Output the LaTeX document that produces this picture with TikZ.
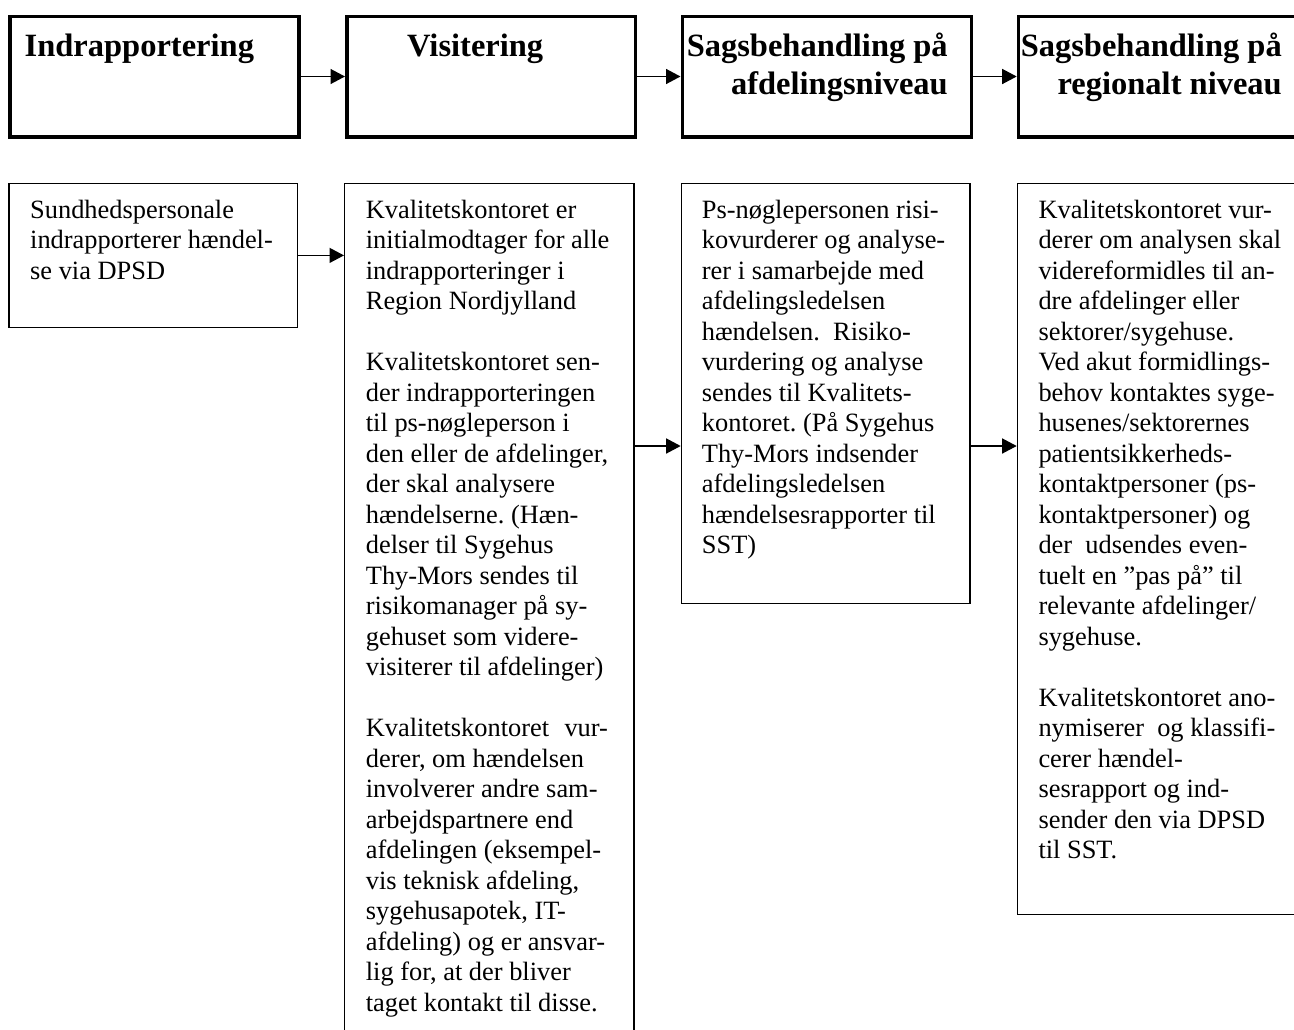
\documentclass[tikz,border=0pt]{standalone}
\usepackage{fontspec}
\setmainfont{Liberation Serif}
\usetikzlibrary{arrows.meta}
\tikzset{
  headbox/.style={draw=black, line width=3.5pt, rectangle, inner sep=0pt, anchor=north west},
  bodybox/.style={draw=black, line width=1.4pt, rectangle, inner sep=0pt, anchor=north west},
  headtxt/.style={inner sep=0pt, font=\fontsize{32.5}{37.5}\selectfont\bfseries},
  bodytxt/.style={inner sep=0pt, anchor=base west, font=\fontsize{26.4}{30.5}\selectfont},
  conn/.style={draw=black, line width=1.4pt, -{Triangle[length=14.5pt,width=15pt]}}
}
\newcommand{\lefttxt}[1]{\parbox[t]{300pt}{\raggedright\frenchspacing #1}}
\newcommand{\righttxt}[1]{\parbox[t]{300pt}{\raggedleft\frenchspacing #1}}
\begin{document}
\begin{tikzpicture}[x=1pt,y=-1pt]
\useasboundingbox (0,0) rectangle (1294,1029);
\clip (0,0) rectangle (1294,1029);
\fill[white] (0,0) rectangle (1294,1029);

% header boxes
\node[headbox, minimum width=288.7pt, minimum height=120.5pt] (H1) at (8.3,14.5) {};
\node[headbox, minimum width=288.5pt, minimum height=120.5pt] (H2) at (345,14.5) {};
\node[headbox, minimum width=289pt, minimum height=120.5pt] (H3) at (680.5,14.5) {};
\node[headbox, minimum width=300pt, minimum height=120.5pt] (H4) at (1016.7,14.5) {};

\node[headtxt, anchor=base west] (H1t) at (24.5,56.5) {Indrapportering};
\node[headtxt, anchor=base west] (H2t) at (407,56.5) {Visitering};
\node[headtxt, anchor=base east] (H3t) at (948,56.5) {\righttxt{Sagsbehandling på\\ afdelingsniveau}};
\node[headtxt, anchor=base east] (H4t) at (1282,56.5) {\righttxt{Sagsbehandling på\\ regionalt niveau}};

\draw[conn] (H1.east) -- (H2.west);
\draw[conn] (H2.east) -- (H3.west);
\draw[conn] (H3.east) -- (H4.west);

% body boxes
\node[bodybox, minimum width=288.7pt, minimum height=144pt] (A) at (8.3,182.7) {};
\node[bodybox, minimum width=289.3pt, minimum height=870pt] (B) at (344,182.7) {};
\node[bodybox, minimum width=288.6pt, minimum height=420.3pt] (C) at (680.7,182.7) {};
\node[bodybox, minimum width=300pt, minimum height=731.3pt] (D) at (1016.7,182.7) {};

\node[bodytxt] (At) at (30,218.3) {\lefttxt{Sundhedspersonale\\
indrapporterer hændel-\\
se via DPSD}};

\node[bodytxt] (Bt) at (365.7,218.3) {\lefttxt{Kvalitetskontoret er\\
initialmodtager for alle\\
indrapporteringer i\\
Region Nordjylland\\
\mbox{}\\
Kvalitetskontoret sen-\\
der indrapporteringen\\
til ps-nøgleperson i\\
den eller de afdelinger,\\
der skal analysere\\
hændelserne. (Hæn-\\
delser til Sygehus\\
Thy-Mors sendes til\\
risikomanager på sy-\\
gehuset som videre-\\
visiterer til afdelinger)\\
\mbox{}\\
Kvalitetskontoret\hspace{0.33em} vur-\\
derer, om hændelsen\\
involverer andre sam-\\
arbejdspartnere end\\
afdelingen (eksempel-\\
vis teknisk afdeling,\\
sygehusapotek, IT-\\
afdeling) og er ansvar-\\
lig for, at der bliver\\
taget kontakt til disse.}};

\node[bodytxt] (Ct) at (701.7,218.3) {\lefttxt{Ps-nøglepersonen risi-\\
kovurderer og analyse-\\
rer i samarbejde med\\
afdelingsledelsen\\
hændelsen.\ \ Risiko-\\
vurdering og analyse\\
sendes til Kvalitets-\\
kontoret. (På Sygehus\\
Thy-Mors indsender\\
afdelingsledelsen\\
hændelsesrapporter til\\
SST)}};

\node[bodytxt] (Dt) at (1038.3,218.3) {\lefttxt{Kvalitetskontoret vur-\\
derer om analysen skal\\
videreformidles til an-\\
dre afdelinger eller\\
sektorer/sygehuse.\\
Ved akut formidlings-\\
behov kontaktes syge-\\
husenes/sektorernes\\
patientsikkerheds-\\
kontaktpersoner (ps-\\
kontaktpersoner) og\\
der\ \ udsendes even-\\
tuelt en ”pas på” til\\
relevante afdelinger/\\
sygehuse.\\
\mbox{}\\
Kvalitetskontoret ano-\\
nymiserer\ \ og klassifi-\\
cerer hændel-\\
sesrapport og ind-\\
sender den via DPSD\\
til SST.}};

\coordinate (ylev) at (0,446);
\draw[conn] (A.east) -- (A.east -| B.west);
\draw[conn] (B.east |- ylev) -- (C.west |- ylev);
\draw[conn] (C.east |- ylev) -- (D.west |- ylev);
\end{tikzpicture}
\end{document}
